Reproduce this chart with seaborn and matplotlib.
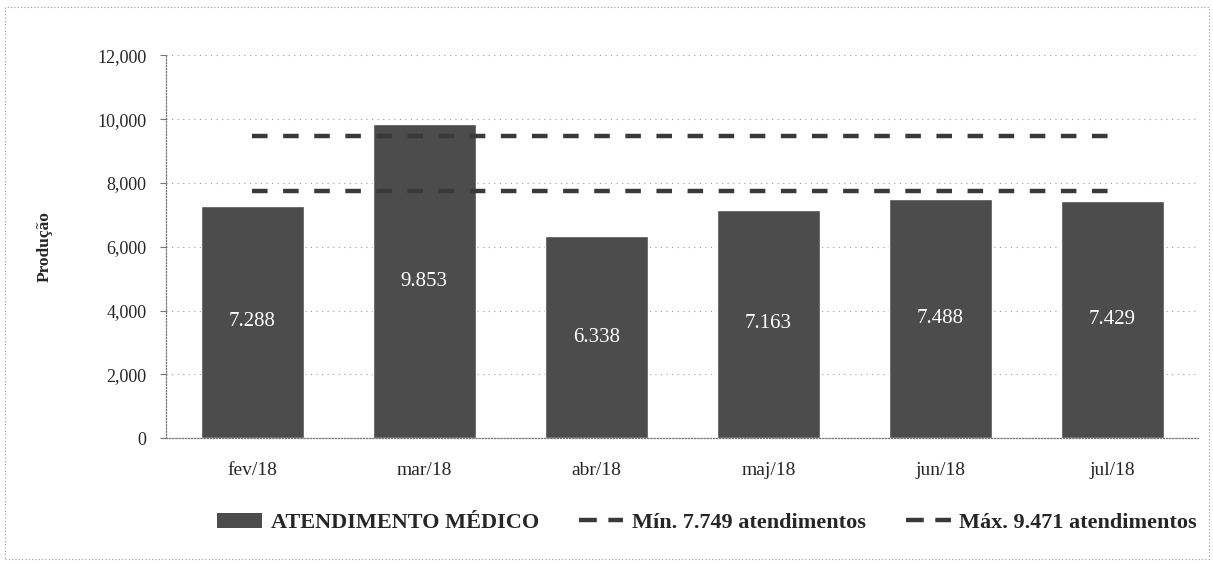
import matplotlib
matplotlib.use("Agg")
import matplotlib.pyplot as plt
from matplotlib.patches import Patch, Rectangle
from matplotlib.lines import Line2D
import seaborn as sns
import pandas as pd

# monthly production (medical appointments)
months = ["fev/18", "mar/18", "abr/18", "maj/18", "jun/18", "jul/18"]
atendimentos = [7288, 9853, 6338, 7163, 7488, 7429]
bar_labels = ["7.288", "9.853", "6.338", "7.163", "7.488", "7.429"]

# reference limits
min_value = 7749
max_value = 9471
series_names = ["ATENDIMENTO MÉDICO", "Mín. 7.749 atendimentos", "Máx. 9.471 atendimentos"]

y_ticks = [0, 2000, 4000, 6000, 8000, 10000, 12000]

BAR_COLOR = "#4c4c4c"
LINE_COLOR = "#3a3a3a"
FONT = "Liberation Serif"


def main():
    sns.set_style("white")
    plt.rcParams["font.family"] = [FONT, "DejaVu Serif"]

    df = pd.DataFrame({"mes": months, "valor": atendimentos})

    fig = plt.figure(figsize=(12.13, 5.64), dpi=100)
    ax = fig.add_axes([0.137, 0.223, 0.851, 0.679])

    ax.yaxis.grid(True, linestyle=(0, (1, 4)), color="#9a9a9a", linewidth=0.8)
    ax.set_axisbelow(True)

    sns.barplot(data=df, x="mes", y="valor", color=BAR_COLOR, width=0.6,
                saturation=1, ax=ax)
    ax.bar_label(ax.containers[0], labels=bar_labels, label_type="center",
                 color="white", fontsize=15, family=FONT)

    xs = list(range(len(months)))
    dash = (0, (3.5, 3.5))
    ax.plot(xs, [min_value] * len(xs), color=LINE_COLOR, linewidth=3.2,
            linestyle=dash, zorder=3)
    ax.plot(xs, [max_value] * len(xs), color=LINE_COLOR, linewidth=3.2,
            linestyle=dash, zorder=3)

    ax.set_ylim(0, 12000)
    ax.set_xlim(-0.5, len(months) - 0.5)
    ax.set_yticks(y_ticks)
    ax.set_yticklabels([f"{v:,}" for v in y_ticks], fontsize=13)
    ax.tick_params(axis="x", labelsize=14, length=0, pad=17)
    ax.tick_params(axis="y", length=4, width=0.8, color="#777777", left=True, pad=10)
    ax.set_xlabel("")
    ax.set_ylabel("Produção", fontsize=12.5, fontweight="bold", labelpad=32)

    for side in ["top", "right"]:
        ax.spines[side].set_visible(False)
    for side in ["left", "bottom"]:
        ax.spines[side].set_linestyle((0, (1, 1.5)))
        ax.spines[side].set_color("#777777")
        ax.spines[side].set_linewidth(0.9)

    # legend: two short dashes per line entry, like the original
    legend_dash = (0, (4, 2.6))
    handles = [
        Patch(facecolor=BAR_COLOR, edgecolor="none"),
        Line2D([0], [0], color=LINE_COLOR, linewidth=3.2, linestyle=legend_dash),
        Line2D([0], [0], color=LINE_COLOR, linewidth=3.2, linestyle=legend_dash),
    ]
    fig.legend(handles, series_names, loc="center", bbox_to_anchor=(0.583, 0.073),
               ncol=3, frameon=False, handlelength=2.0, handletextpad=0.4,
               columnspacing=1.8, prop={"family": FONT, "weight": "bold", "size": 16})

    # dotted frame around the whole chart
    fig.patches.append(Rectangle((0.004, 0.008), 0.993, 0.98, transform=fig.transFigure,
                                 fill=False, edgecolor="#999999", linewidth=0.8,
                                 linestyle=(0, (1, 2))))

    fig.savefig("out.png", dpi=100)


if __name__ == "__main__":
    main()
